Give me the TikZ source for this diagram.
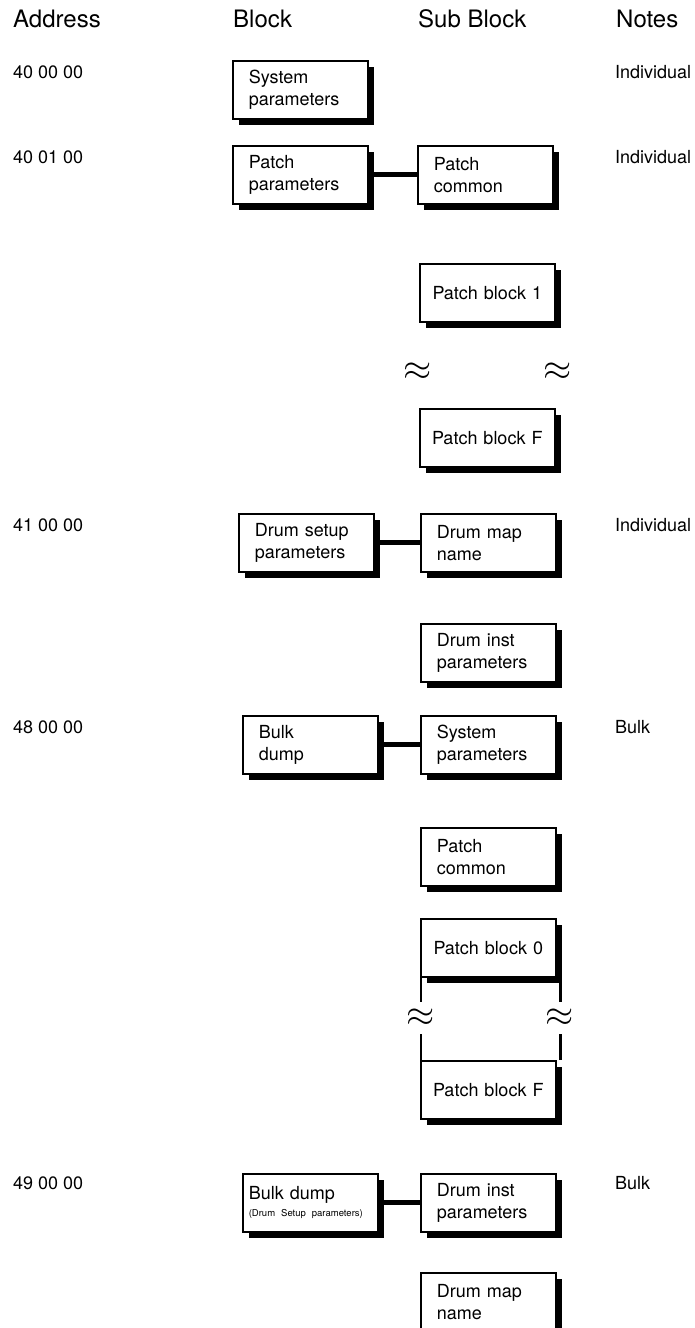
\documentclass[tikz,border=0pt]{standalone}
\usepackage{fontspec}
\setmainfont{TeX Gyre Heros}
\usetikzlibrary{positioning,shadows}

\begin{document}
\begin{tikzpicture}[x=1pt, y=-1pt, every node/.style={font=\fontsize{18}{22}\selectfont, inner sep=0pt}, head/.style={font=\fontsize{24}{28}\selectfont, anchor=base west}, lbl/.style={anchor=west}, box/.style={draw, line width=1.6pt, fill=white, minimum width=135pt, minimum height=58pt, inner xsep=16pt, text width=103pt, align=left, anchor=north west, drop shadow={shadow xshift=6pt, shadow yshift=-6pt, fill=black, opacity=1}}, pbox/.style={box, inner xsep=6pt, text width=123pt, align=center}, link/.style={line width=5pt}, wave/.style={minimum height=32pt}, tick/.style={line width=2.2pt}]
\useasboundingbox (0,0) rectangle (695,1328);
\clip (0,0) rectangle (695,1328);
\node[head] (haddr) at (13,27) {Address};
\node[head] (hblock) at (233,27) {Block};
\node[head] (hsub) at (418,27) {Sub Block};
\node[head] (hnotes) at (616,27) {Notes};
\node[lbl] (a1) at (13,72) {40 00 00};
\node[lbl] (a2) at (13,157) {40 01 00};
\node[lbl] (a3) at (13,525) {41 00 00};
\node[lbl] (a4) at (13,727) {48 00 00};
\node[lbl] (a5) at (13,1183) {49 00 00};
\node[lbl] (n1) at (615,72) {Individual};
\node[lbl] (n2) at (615,157) {Individual};
\node[lbl] (n3) at (615,525) {Individual};
\node[lbl] (n4) at (615,727) {Bulk};
\node[lbl] (n5) at (615,1183) {Bulk};
\node[box] (sys) at (232,60) {System\\parameters};
\node[box] (pparam) at (232,145) {Patch\\parameters};
\node[box] (pcommon) at (417,145) {Patch\\common};
\node[pbox] (pb1) at (419,263) {Patch block 1};
\node[wave] (w1l) at (418,372) {\scalebox{2.1}{$\approx$}};
\node[wave] (w1r) at (558,372) {\scalebox{2.1}{$\approx$}};
\node[pbox] (pbF) at (419,408) {Patch block F};
\node[box] (dsetup) at (238,513) {Drum setup\\parameters};
\node[box] (dmap) at (420,513) {Drum map\\name};
\node[box] (dinst) at (420,623) {Drum inst\\parameters};
\node[box] (bulk) at (242,715) {Bulk\\dump};
\node[box] (ssys) at (420,715) {System\\parameters};
\node[box] (scommon) at (420,827) {Patch\\common};
\node[pbox] (pb0) at (420,918) {Patch block 0};
\node[wave] (wl) at (421,1018) {\scalebox{2.1}{$\approx$}};
\node[wave] (wr) at (560,1018) {\scalebox{2.1}{$\approx$}};
\node[pbox] (pbF2) at (420,1060) {Patch block F};
\node[box, inner xsep=6pt, text width=123pt] (bulkds) at (242,1173) {Bulk dump\\[-5pt]\mbox{\fontsize{9.5}{11}\selectfont(Drum Setup parameters)}};
\node[box] (dinst2) at (420,1173) {Drum inst\\parameters};
\node[box] (dmap2) at (420,1272) {Drum map\\name};
\draw[link] (pparam)--(pcommon);\draw[link] (dsetup)--(dmap);\draw[link] (bulk)--(ssys);\draw[link] (bulkds)--(dinst2);
\draw[tick] (wl.north)--(wl |- pb0.south);\draw[tick] (wl.south)--(wl |- pbF2.north);
\draw[tick,line width=3pt] (wr.north)--(wr |- pb0.south);\draw[tick,line width=3pt] (wr.south)--(wr |- pbF2.north);
\end{tikzpicture}
\end{document}
